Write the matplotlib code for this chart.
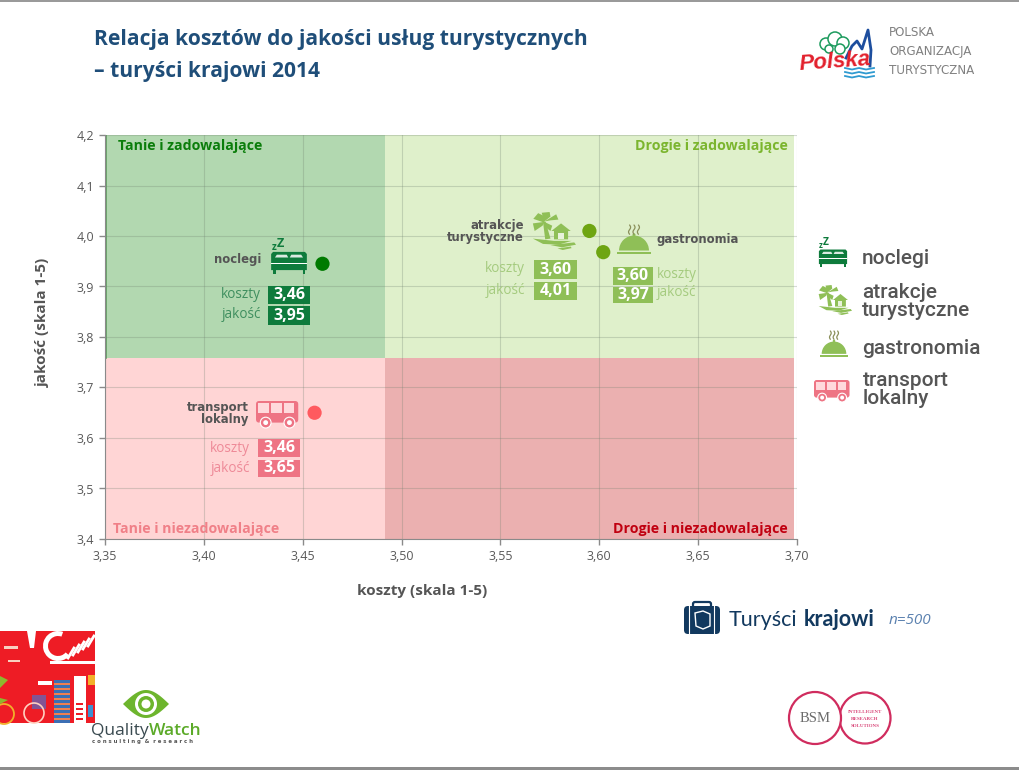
import matplotlib
matplotlib.use("Agg")
import matplotlib.pyplot as plt
from matplotlib.patches import Polygon, Rectangle, Circle, FancyBboxPatch, Wedge
from matplotlib.ticker import FixedLocator, FixedFormatter
import numpy as np

plt.rcParams['font.family'] = ['Open Sans', 'DejaVu Sans']

# ---------- data ----------
categories = ['noclegi', 'atrakcje turystyczne', 'gastronomia', 'transport lokalny']
koszty_pts = [3.460, 3.595, 3.602, 3.456]
jakosc_pts = [3.945, 4.010, 3.968, 3.650]
point_colors = ['#007A00', '#6EA512', '#6EA512', '#FF5A5F']
koszty_lab = ['3,46', '3,60', '3,60', '3,46']
jakosc_lab = ['3,95', '4,01', '3,97', '3,65']
x_ticks = [3.35, 3.40, 3.45, 3.50, 3.55, 3.60, 3.65, 3.70]
y_ticks = [3.4, 3.5, 3.6, 3.7, 3.8, 3.9, 4.0, 4.1, 4.2]
x_tick_labels = ['3,35', '3,40', '3,45', '3,50', '3,55', '3,60', '3,65', '3,70']
y_tick_labels = ['3,4', '3,5', '3,6', '3,7', '3,8', '3,9', '4,0', '4,1', '4,2']
x_split, y_split, x_fill_end = 3.4916, 3.758, 3.6985

W, H = 1019, 770
fig = plt.figure(figsize=(W / 100, H / 100), dpi=100, facecolor='white')

# ---------- chart ----------
L, R, T, B = 105, 797, 135, 539
ax = fig.add_axes([L / W, 1 - B / H, (R - L) / W, (B - T) / H])
ax.set_xlim(3.35, 3.70)
ax.set_ylim(3.4, 4.2)
frac = (y_split - 3.4) / .8
ax.axvspan(3.35, x_split, ymin=frac, ymax=1, color='#B2D8B0', lw=0, zorder=0)
ax.axvspan(x_split, x_fill_end, ymin=frac, ymax=1, color='#DFF0CB', lw=0, zorder=0)
ax.axvspan(3.35, x_split, ymin=0, ymax=frac, color='#FFD5D5', lw=0, zorder=0)
ax.axvspan(x_split, x_fill_end, ymin=0, ymax=frac, color='#EBB0B0', lw=0, zorder=0)
ax.xaxis.set_major_locator(FixedLocator(x_ticks))
ax.xaxis.set_major_formatter(FixedFormatter(x_tick_labels))
ax.yaxis.set_major_locator(FixedLocator(y_ticks))
ax.yaxis.set_major_formatter(FixedFormatter(y_tick_labels))
ax.grid(True, color='#6F7F6F', alpha=.28, lw=.8, zorder=1)
ax.set_axisbelow(True)
ax.tick_params(length=4, width=1, color='#8A8A8A', labelcolor='#595959', labelsize=9, pad=4)
for s in ('top', 'right'):
    ax.spines[s].set_visible(False)
for s in ('left', 'bottom'):
    ax.spines[s].set_color('#8A8A8A')
ax.plot([3.3505, 3.3505], [y_split, 4.2], color='#5F9A5F', lw=1.2, zorder=2)
ax.scatter(koszty_pts, jakosc_pts, s=105, c=point_colors, linewidths=0, zorder=5, clip_on=False)

# ---------- overlay in pixel coordinates ----------
ov = fig.add_axes([0, 0, 1, 1], facecolor='none')
ov.set_xlim(0, W)
ov.set_ylim(H, 0)
ov.axis('off')

GREY = '#555555'
DG, LG, RD = '#0E7B3C', '#8FBF57', '#EE7484'


def T_(x, y, s, **k):
    k.setdefault('va', 'center')
    k.setdefault('ha', 'left')
    return ov.text(x, y, s, **k)


def mapper(x0, y0, w, h):
    return lambda pts: [(x0 + a * w, y0 + b * h) for a, b in pts]


def bed(x0, y0, w, h, c):
    m = mapper(x0, y0, w, h)
    ov.add_patch(Polygon(m([(.03, .40), (.08, .34), (.92, .34), (.97, .40), (.97, .86), (.03, .86)]), color=c, lw=0))
    ov.add_patch(Polygon(m([(.13, .50), (.18, .42), (.44, .42), (.48, .50)]), color='white', lw=0, alpha=.85))
    ov.add_patch(Polygon(m([(.52, .50), (.56, .42), (.82, .42), (.87, .50)]), color='white', lw=0, alpha=.85))
    ov.add_patch(Polygon(m([(.03, .66), (.97, .66), (.97, .69), (.03, .69)]), color='white', lw=0))
    for a in (.08, .86):
        ov.add_patch(Polygon(m([(a, .86), (a + .07, .86), (a + .07, .98), (a, .98)]), color=c, lw=0))
    T_(*m([(.10, .20)])[0], 'z', color=c, fontsize=h * .20, fontweight='bold', ha='center')
    T_(*m([(.26, .10)])[0], 'Z', color=c, fontsize=h * .26, fontweight='bold', ha='center')


def palm(x0, y0, w, h, c):
    m = mapper(x0, y0, w, h)
    ov.add_patch(Polygon(m([(.25, .26), (.31, .26), (.42, .70), (.30, .72)]), color=c, lw=0))
    for pts in ([(.28, .28), (.03, .18), (.14, .03), (.30, .12)],
                [(.28, .25), (.22, .02), (.40, .0), (.42, .12)],
                [(.28, .25), (.55, .06), (.60, .20), (.42, .22)],
                [(.28, .26), (.02, .30), (.06, .50), (.24, .36)],
                [(.28, .26), (.46, .36), (.42, .50), (.28, .38)]):
        ov.add_patch(Polygon(m(pts), color=c, lw=0))
    ov.add_patch(Polygon(m([(.44, .50), (.66, .30), (.88, .50), (.82, .50), (.82, .72), (.50, .72), (.50, .50)]), color=c, lw=0))
    ov.add_patch(Rectangle(m([(.60, .54)])[0], .12 * w, .16 * h, color='white', alpha=.8, lw=0))
    ov.add_patch(Polygon(m([(.02, .70), (.50, .76), (.90, .76), (.60, .86), (.25, .84)]), color=c, lw=0))
    ov.add_patch(Polygon(m([(.42, .87), (.96, .80), (1.0, .86), (.68, .93)]), color=c, lw=0))
    ov.add_patch(Polygon(m([(.58, .96), (.88, .91), (.90, .95), (.70, 1.0)]), color=c, lw=0))


def cloche(x0, y0, w, h, c):
    cx = x0 + w / 2
    base = y0 + h * .88
    ov.add_patch(Wedge((cx, base), w * .44, 180, 360, color=c, lw=0))
    ov.add_patch(Circle((cx, base - w * .46), w * .045, color=c, lw=0))
    ov.add_patch(Rectangle((x0, base + h * .05), w, h * .06, color=c, lw=0))
    for dx in (-.13, 0, .13):
        yy = np.linspace(y0, y0 + h * .32, 20)
        ov.plot(cx + dx * w + w * .03 * np.sin((yy - y0) / (h * .32) * 2 * np.pi), yy,
                color='#8A8F5A', lw=.9, solid_capstyle='round')


def bus(x0, y0, w, h, c):
    ov.add_patch(FancyBboxPatch((x0, y0), w * .96, h * .80, boxstyle=f'round,pad=0,rounding_size={h * .12}', color=c, lw=0))
    for a, b in ((.05, .30), (.34, .60), (.64, .86)):
        ov.add_patch(Rectangle((x0 + a * w, y0 + .08 * h), (b - a) * w, .38 * h, color='#FFD9DC', lw=0))
    for a in (.22, .76):
        ov.add_patch(Circle((x0 + a * w, y0 + .80 * h), h * .20, fc=c, ec='white', lw=.8, zorder=3))
        ov.add_patch(Circle((x0 + a * w, y0 + .80 * h), h * .09, color='white', lw=0, zorder=4))


def badge(x0, y0, x1, y1, s, c):
    ov.add_patch(Rectangle((x0, y0), x1 - x0, y1 - y0, color=c, lw=0, zorder=3))
    T_((x0 + x1) / 2, (y0 + y1) / 2, s, color='white', fontsize=11.5, fontweight='bold', ha='center', zorder=4)


# title
TITLE = '#1F4E79'
T_(94, 40, 'Relacja kosztów do jakości usług turystycznych', color=TITLE, fontsize=15.1, fontweight='bold')
T_(94, 71, '– turyści krajowi 2014', color=TITLE, fontsize=15.1, fontweight='bold')

# quadrant labels
QL = dict(fontsize=10.2, fontweight='bold')
T_(118, 146, 'Tanie i zadowalające', color='#0B7D0B', **QL)
T_(788, 146, 'Drogie i zadowalające', color='#7BB52E', ha='right', **QL)
T_(113, 529, 'Tanie i niezadowalające', color='#F08088', **QL)
T_(788, 529, 'Drogie i niezadowalające', color='#C00010', ha='right', **QL)

# axis titles
T_(422, 591, 'koszty (skala 1-5)', color=GREY, fontsize=11, fontweight='bold', ha='center')
T_(43, 322, 'jakość (skala 1-5)', color=GREY, fontsize=11, fontweight='bold', ha='center', rotation=90)

# callouts
CAT = dict(color=GREY, fontsize=8.4, fontweight='bold', family='DejaVu Sans')
LAB = dict(fontsize=9.8)
bed(270, 240, 38, 35, DG)
T_(261, 260, 'noclegi', ha='right', **CAT)
T_(261, 295, 'koszty', ha='right', color='#3F8F5F', **LAB)
T_(261, 315, 'jakość', ha='right', color='#3F8F5F', **LAB)
badge(268, 286, 310, 304, koszty_lab[0], DG)
badge(268, 306, 310, 325, jakosc_lab[0], DG)

palm(532, 212, 44, 38, LG)
T_(524, 226, 'atrakcje', ha='right', **CAT)
T_(524, 238, 'turystyczne', ha='right', **CAT)
T_(525, 269, 'koszty', ha='right', color='#A5CB7F', **LAB)
T_(525, 290, 'jakość', ha='right', color='#A5CB7F', **LAB)
badge(534, 260, 577, 279, koszty_lab[1], LG)
badge(534, 282, 577, 300, jakosc_lab[1], LG)

cloche(617, 225, 34, 29, LG)
T_(657, 240, 'gastronomia', **CAT)
T_(657, 275, 'koszty', color='#A5CB7F', **LAB)
T_(657, 293, 'jakość', color='#A5CB7F', **LAB)
badge(613, 267, 653, 285, koszty_lab[2], LG)
badge(613, 287, 653, 303, jakosc_lab[2], LG)

bus(256, 401, 44, 27, RD)
T_(249, 407, 'transport', ha='right', **CAT)
T_(249, 419, 'lokalny', ha='right', **CAT)
T_(250, 449, 'koszty', ha='right', color='#EE8A98', **LAB)
T_(250, 468, 'jakość', ha='right', color='#EE8A98', **LAB)
badge(258, 439, 300, 457, koszty_lab[3], RD)
badge(258, 460, 300, 477, jakosc_lab[3], RD)

# legend
LEG = dict(color=GREY, fontsize=15, fontweight='medium', family='Roboto')
bed(818, 240, 30, 28, DG)
T_(862, 258, 'noclegi', **LEG)
palm(818, 285, 34, 30, LG)
T_(862, 293, 'atrakcje', **LEG)
T_(862, 311, 'turystyczne', **LEG)
cloche(820, 331, 28, 26, LG)
T_(862, 348, 'gastronomia', **LEG)
bus(814, 380, 37, 22, RD)
T_(863, 381, 'transport', **LEG)
T_(863, 399, 'lokalny', **LEG)

# Turyści krajowi badge
NAVY = '#12395F'
ov.add_patch(FancyBboxPatch((684, 606), 36, 28, boxstyle='round,pad=0,rounding_size=4', color=NAVY, lw=0))
ov.add_patch(FancyBboxPatch((693, 602), 18, 8, boxstyle='round,pad=0,rounding_size=2', fc='none', ec=NAVY, lw=1.6))
for xx in (689.5, 714.5):
    ov.plot([xx, xx], [606, 634], color='white', lw=.8)
ov.add_patch(Polygon([(695, 613), (703, 611), (710, 614), (710, 626), (703, 629), (696, 626)], fc='none', ec='white', lw=1))
T_(729, 620, 'Turyści', color=NAVY, fontsize=15.5, family='Lato')
T_(804, 620, 'krajowi', color=NAVY, fontsize=15.5, family='Lato', fontweight='bold')
T_(889, 620, 'n=500', color='#5C82B0', fontsize=11, fontstyle='italic', family='Open Sans')

# POT logo
POT = dict(color='#808080', fontsize=8.6, family='DejaVu Sans')
T_(889, 33, 'POLSKA', **POT)
T_(889, 52, 'ORGANIZACJA', **POT)
T_(889, 70, 'TURYSTYCZNA', **POT)
for cx, cy, r in ((826, 44, 6), (835, 39, 7), (843, 43, 6), (840, 49, 5), (829, 49, 4)):
    ov.add_patch(Circle((cx, cy), r, fc='white', ec='#1D9B5E', lw=1.1, zorder=2))
ov.plot([846, 852, 857, 862, 868, 871, 870], [58, 46, 41, 49, 30, 50, 66], color='#1D4E9E', lw=2, zorder=2)
T_(798, 62, 'Polska', color='#E2202C', fontsize=16, fontstyle='italic', fontweight='bold',
   family='Liberation Sans', rotation=4, zorder=3)
for y0 in (68, 72, 76):
    xx = np.array([845, 852, 859, 866, 874])
    ov.plot(xx, y0 + np.array([0, 1.5, 0, 1.5, 0]), color='#2F9AD0', lw=1.3)

# collage
ov.add_patch(Rectangle((0, 631), 95, 92, color='#EE1C25', lw=0))
ov.add_patch(Rectangle((4, 646), 14, 3, color='#F8D0C0', lw=0))
ov.add_patch(Rectangle((8, 660), 12, 2, color='#F8D0C0', lw=0))
ov.add_patch(Polygon([(27, 631), (36, 631), (34, 648), (30, 648)], color='white', lw=0))
ov.add_patch(Wedge((58, 646), 15, 40, 290, width=5, color='white', lw=0))
for i in range(5):
    ov.plot([68 + i * 5, 74 + i * 5], [658 - i * 3, 648 - i * 3], color='white', lw=2)
ov.add_patch(Rectangle((50, 661), 45, 3, color='white', lw=0))
ov.add_patch(Rectangle((38, 681), 14, 4, color='white', lw=0))
ov.add_patch(Rectangle((54, 680), 16, 43, color='#3C6FB4', lw=0))
for i in range(8):
    ov.add_patch(Rectangle((54, 683 + i * 5), 16, 2, color='#F08050', lw=0))
ov.add_patch(Rectangle((74, 676), 12, 47, color='white', lw=0))
for i in range(4):
    ov.add_patch(Rectangle((76, 703 + i * 5), 7, 2, color='#EE1C25', lw=0))
ov.add_patch(Rectangle((88, 705), 5, 12, color='#3C8FD0', lw=0))
ov.add_patch(Rectangle((88, 675), 7, 10, color='#F2B02A', lw=0))
ov.add_patch(Rectangle((32, 695), 14, 14, color='#6F5FA8', lw=0, alpha=.85))
ov.add_patch(Circle((34, 713), 10, fc='none', ec='#FFD0C0', lw=1.2))
ov.add_patch(Circle((4, 714), 10, fc='none', ec='#F2B02A', lw=1.3))
ov.add_patch(Polygon([(0, 698), (8, 700), (0, 704)], color='#8DB82E', lw=0))
ov.add_patch(Polygon([(0, 676), (8, 680), (0, 688)], color='#8DB82E', lw=0))

# QualityWatch
t = np.linspace(0, 1, 30)
xe = 123 + 46 * t
ye = 14 * np.sin(np.pi * t)
ov.add_patch(Polygon(np.r_[np.c_[xe, 704 - ye], np.c_[xe[::-1], 704 + ye[::-1]]], color='#6DB52D', lw=0))
ov.add_patch(Circle((146, 704), 11, color='white', lw=0))
ov.add_patch(Circle((146, 704), 8, color='#6DB52D', lw=0))
ov.add_patch(Circle((146, 704), 4.5, color='white', lw=0))
T_(91, 731, 'Quality', color='#3A4A50', fontsize=12.5, family='Open Sans')
T_(149, 731, 'Watch', color='#5BAA28', fontsize=12.5, family='Open Sans', fontweight='semibold')
T_(92, 742, 'c o n s u l t i n g  &  r e s e a r c h', color='#555555', fontsize=3.9, family='DejaVu Sans', fontweight='bold')

# BSM
for cx, r in ((865, 25.5), (815, 26)):
    ov.add_patch(Circle((cx, 718), r, fc='white', ec='#D02C5E', lw=1.6))
T_(815, 719, 'BSM', color='#6B6B6B', fontsize=10.5, family='Liberation Serif', ha='center')
for yy, s in ((712, 'INTELLIGENT'), (719, 'RESEARCH'), (726, 'SOLUTIONS')):
    T_(865, yy, s, color='#D9487A', fontsize=3.6, family='Liberation Serif', fontweight='bold', ha='center')

# slide frame lines
ov.add_patch(Rectangle((0, 0), W, 1.5, color='#9A9A9A', lw=0))
ov.add_patch(Rectangle((0, 767), W, 3, color='#8C8C8C', lw=0))

fig.savefig('out.png', dpi=100, facecolor='white')
